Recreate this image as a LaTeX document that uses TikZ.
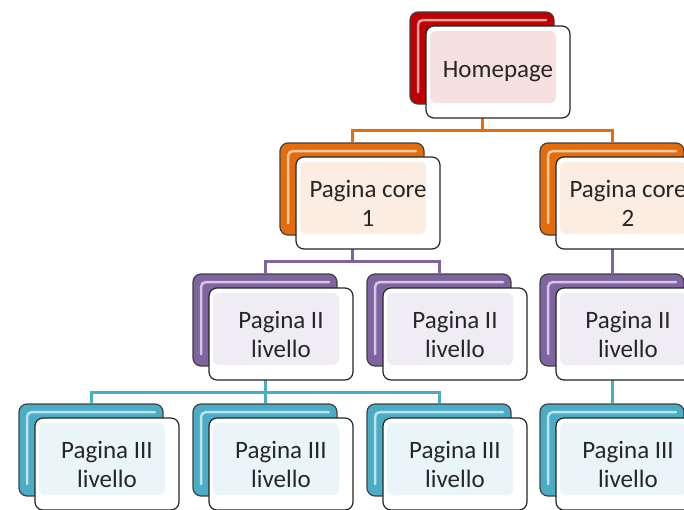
\documentclass[tikz,border=0pt]{standalone}
\usepackage{fontspec}
\setmainfont{Carlito}
\usetikzlibrary{positioning,calc,backgrounds}
\definecolor{hpred}{RGB}{192,0,0}
\definecolor{coreorange}{RGB}{228,108,10}
\definecolor{lvpurple}{RGB}{128,100,162}
\definecolor{lvteal}{RGB}{75,172,198}
\tikzset{
  backbox/.style={
    draw=black!75,
    line width=1.2pt,
    rounded corners=8pt,
    fill=#1,
    minimum width=144pt,
    minimum height=92pt,
    inner sep=0pt,
    path picture={
      \draw[#1!35!white, line width=2.5pt, line cap=round, rounded corners=5pt]
        ([shift={(8pt,-80pt)}]path picture bounding box.north west)
        -- ([shift={(8pt,-8pt)}]path picture bounding box.north west)
        -- ([shift={(-8pt,-8pt)}]path picture bounding box.north east);
    }
  },
  frontbox/.style={
    draw=black!85,
    line width=1.2pt,
    rounded corners=8pt,
    fill=white,
    minimum width=144pt,
    minimum height=92pt,
    inner sep=0pt,
    align=center,
    text=black!85,
    font=\fontsize{25}{29}\selectfont,
    path picture={
      \fill[#1!12, rounded corners=6pt]
        ([shift={(4pt,-5pt)}]path picture bounding box.north west)
        rectangle ([shift={(-14pt,15pt)}]path picture bounding box.south east);
    }
  },
  link/.style={line width=3pt, draw=#1}
}

\begin{document}
\begin{tikzpicture}[x=1pt, y=-1pt]
  \useasboundingbox (0,0) rectangle (684,509);
  \clip (0,0) rectangle (684,509);

  % Homepage
  \node[backbox=hpred] (hp) at (482,58) {};
  \node[frontbox=hpred] (hpf) at ($(hp)+(16,14)$) {Homepage};

  % Pagine core
  \node[backbox=coreorange] (c1) at (352,189) {};
  \node[frontbox=coreorange] (c1f) at ($(c1)+(16,14)$) {Pagina core\\1};
  \node[backbox=coreorange] (c2) at (612,189) {};
  \node[frontbox=coreorange] (c2f) at ($(c2)+(16,14)$) {Pagina core\\2};

  % Pagine II livello
  \node[backbox=lvpurple] (l2a) at (265,320) {};
  \node[frontbox=lvpurple] (l2af) at ($(l2a)+(16,14)$) {Pagina II\\livello};
  \node[backbox=lvpurple] (l2b) at (439,320) {};
  \node[frontbox=lvpurple] (l2bf) at ($(l2b)+(16,14)$) {Pagina II\\livello};
  \node[backbox=lvpurple] (l2c) at (612,320) {};
  \node[frontbox=lvpurple] (l2cf) at ($(l2c)+(16,14)$) {Pagina II\\livello};

  % Pagine III livello
  \node[backbox=lvteal] (l3a) at (91,450) {};
  \node[frontbox=lvteal] (l3af) at ($(l3a)+(16,14)$) {Pagina III\\livello};
  \node[backbox=lvteal] (l3b) at (265,450) {};
  \node[frontbox=lvteal] (l3bf) at ($(l3b)+(16,14)$) {Pagina III\\livello};
  \node[backbox=lvteal] (l3c) at (439,450) {};
  \node[frontbox=lvteal] (l3cf) at ($(l3c)+(16,14)$) {Pagina III\\livello};
  \node[backbox=lvteal] (l3d) at (612,450) {};
  \node[frontbox=lvteal] (l3df) at ($(l3d)+(16,14)$) {Pagina III\\livello};

  % Connectors behind the boxes
  \begin{pgfonlayer}{background}
    \coordinate (busa) at ($(hpf.south)!.5!(c1.north)$);
    \coordinate (busb) at ($(c1f.south)!.5!(l2a.north)$);
    \coordinate (busc) at ($(l2af.south)!.5!(l3a.north)$);

    \draw[link=coreorange] (hp.south) |- (busa -| c1.north) -- (c1.north);
    \draw[link=coreorange] (hp.south) |- (busa -| c2.north) -- (c2.north);

    \draw[link=lvpurple] (c1.south) |- (busb -| l2a.north) -- (l2a.north);
    \draw[link=lvpurple] (c1.south) |- (busb -| l2b.north) -- (l2b.north);
    \draw[link=lvpurple] (c2.south) -- (l2c.north);

    \draw[link=lvteal] (l2a.south) |- (busc -| l3a.north) -- (l3a.north);
    \draw[link=lvteal] (l2a.south) -- (l3b.north);
    \draw[link=lvteal] (l2a.south) |- (busc -| l3c.north) -- (l3c.north);
    \draw[link=lvteal] (l2c.south) -- (l3d.north);
  \end{pgfonlayer}
\end{tikzpicture}
\end{document}
